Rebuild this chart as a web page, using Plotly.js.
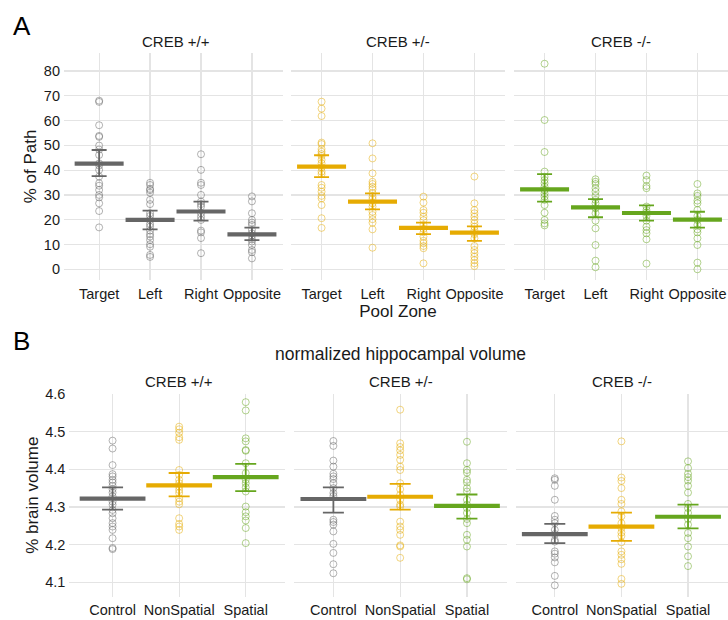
<!DOCTYPE html>
<html>
<head>
<meta charset="utf-8">
<script src="https://cdn.plot.ly/plotly-3.0.1.min.js"></script>
<style>
html,body{margin:0;padding:0;background:#fff;}
#chart{width:728px;height:620px;}
</style>
</head>
<body>
<div id="chart"></div>
<script>
// ---------- DATA ----------
const genotypes = ["CREB +/+", "CREB +/-", "CREB -/-"];
const zones = ["Target", "Left", "Right", "Opposite"];
const tasks = ["Control", "NonSpatial", "Spatial"];

// Panel A: % of path, one list per zone (Target, Left, Right, Opposite)
const pathWT = [
  [68.0,67.5,58.1,53.8,53.4,49.9,48.3,46.1,42.7,41.8,40.1,37.4,34.7,33.7,32.0,30.0,29.0,26.6,23.5,16.9],
  [34.9,34.0,32.4,31.9,30.9,28.0,26.3,22.6,21.5,19.9,18.3,17.2,15.6,14.2,13.2,11.8,10.1,9.1,5.8,5.0],
  [46.4,40.1,34.9,34.0,30.0,27.3,26.3,25.3,22.6,21.2,19.9,15.6,14.9,12.6,6.5],
  [29.4,27.4,22.6,19.9,18.8,17.9,15.9,14.5,13.6,12.1,11.2,9.8,7.8,6.9,4.4]
];
const pathHet = [
  [67.6,64.8,61.8,51.1,50.5,48.5,47.4,46.5,45.7,44.1,42.7,41.1,39.4,38.4,34.0,32.9,31.3,29.6,28.6,25.9,20.6,16.7],
  [50.8,44.7,38.7,35.3,34.4,33.3,32.3,30.7,29.3,28.4,26.6,25.3,23.2,21.9,20.2,18.8,16.1,8.7],
  [29.3,26.9,23.9,22.8,21.2,19.8,17.9,16.3,14.9,13.2,11.5,10.5,9.4,8.5,2.4],
  [37.4,26.6,23.9,22.6,21.2,19.8,18.5,17.2,15.8,14.2,12.5,9.4,7.8,6.5,5.1,3.7,2.4,1.3]
];
const pathKO = [
  [82.9,60.2,47.3,39.4,37.3,36.0,34.7,33.3,32.0,30.6,29.3,28.0,25.9,22.8,19.9,18.5,17.7],
  [36.3,35.3,34.4,32.7,31.3,29.6,28.0,26.6,24.6,22.6,19.6,16.5,9.8,3.5,0.8],
  [37.8,36.0,33.6,32.7,25.3,23.9,22.8,21.5,19.6,17.2,15.8,14.5,12.1,2.3],
  [34.4,30.6,29.6,27.7,26.6,23.9,21.5,19.9,17.9,16.1,14.9,12.5,9.8,2.7,0.0]
];
const pathMeanWT  = [42.6, 19.9, 23.3, 14.1];
const pathHiWT    = [48.1, 23.7, 27.3, 16.8];
const pathLoWT    = [37.6, 16.1, 19.6, 11.8];
const pathMeanHet = [41.4, 27.3, 16.7, 14.8];
const pathHiHet   = [46.0, 30.6, 18.8, 17.3];
const pathLoHet   = [37.2, 24.2, 14.2, 11.5];
const pathMeanKO  = [32.2, 25.0, 22.7, 20.0];
const pathHiKO    = [38.4, 28.3, 25.8, 23.2];
const pathLoKO    = [27.3, 21.0, 19.6, 16.8];

// Panel B: % brain volume, one list per task (Control, NonSpatial, Spatial)
const volWT = [
  [4.476,4.455,4.411,4.387,4.381,4.372,4.365,4.356,4.347,4.338,4.328,4.314,4.306,4.292,4.283,4.270,4.257,4.248,4.239,4.217,4.191,4.188],
  [4.513,4.506,4.497,4.485,4.478,4.398,4.385,4.372,4.363,4.354,4.345,4.337,4.323,4.314,4.307,4.270,4.255,4.248,4.239],
  [4.578,4.556,4.482,4.474,4.451,4.449,4.416,4.390,4.372,4.363,4.352,4.341,4.301,4.286,4.275,4.264,4.244,4.204]
];
const volHet = [
  [4.475,4.462,4.423,4.407,4.388,4.381,4.374,4.363,4.350,4.337,4.329,4.266,4.260,4.253,4.235,4.202,4.178,4.148,4.124],
  [4.558,4.469,4.459,4.450,4.438,4.425,4.407,4.398,4.363,4.347,4.332,4.319,4.306,4.301,4.261,4.248,4.239,4.226,4.198,4.195,4.165],
  [4.473,4.416,4.398,4.391,4.372,4.365,4.350,4.341,4.319,4.306,4.297,4.284,4.268,4.257,4.226,4.213,4.195,4.111,4.108]
];
const volKO = [
  [4.376,4.372,4.356,4.319,4.276,4.266,4.257,4.239,4.228,4.212,4.208,4.182,4.176,4.166,4.153,4.117,4.092],
  [4.474,4.378,4.369,4.350,4.319,4.308,4.288,4.275,4.257,4.244,4.232,4.223,4.206,4.182,4.173,4.161,4.149,4.109,4.096],
  [4.421,4.403,4.388,4.379,4.370,4.356,4.338,4.308,4.297,4.284,4.268,4.253,4.231,4.217,4.195,4.169,4.143]
];
const volMeanWT  = [4.322, 4.357, 4.379];
const volHiWT    = [4.352, 4.390, 4.414];
const volLoWT    = [4.293, 4.328, 4.342];
const volMeanHet = [4.321, 4.327, 4.303];
const volHiHet   = [4.352, 4.361, 4.333];
const volLoHet   = [4.285, 4.293, 4.269];
const volMeanKO  = [4.228, 4.248, 4.274];
const volHiKO    = [4.255, 4.285, 4.306];
const volLoKO    = [4.204, 4.210, 4.243];

const yTicksA = [0,10,20,30,40,50,60,70,80];
const yTicksB = [4.1,4.2,4.3,4.4,4.5,4.6];

// ---------- STYLE ----------
const COLS = ["#666666", "#E6AB02", "#66A61E"];
const COLS_A = ["rgba(102,102,102,0.5)", "rgba(230,171,2,0.5)", "rgba(102,166,30,0.5)"];
const FONT = "Liberation Sans, Arial, Helvetica, sans-serif";
const TXT = "#1a1a1a";
const GRID = "#e4e4e4";
const W = 728, H = 620;
const fx = v => v / W;
const fy = v => 1 - v / H;

const traces = [];

function addPanel(axisIdx, cats, groups, means, his, los, colorFor, barSize, capW) {
  const xa = "x" + (axisIdx === 1 ? "" : axisIdx);
  const ya = "y" + (axisIdx === 1 ? "" : axisIdx);
  groups.forEach((vals, i) => {
    traces.push({
      type: "scatter", mode: "markers", xaxis: xa, yaxis: ya,
      x: vals.map(() => cats[i]), y: vals,
      marker: { symbol: "circle-open", size: 7, color: COLS_A[colorFor(i)], line: { width: 1, color: COLS_A[colorFor(i)] } },
      hoverinfo: "skip", showlegend: false
    });
  });
  cats.forEach((c, i) => {
    traces.push({
      type: "scatter", mode: "markers", xaxis: xa, yaxis: ya,
      x: [c], y: [means[i]],
      marker: { size: 1, opacity: 0 },
      error_y: { type: "data", symmetric: false, array: [his[i] - means[i]], arrayminus: [means[i] - los[i]],
                 color: COLS[colorFor(i)], thickness: 1.8, width: capW },
      hoverinfo: "skip", showlegend: false
    });
  });
  traces.push({
    type: "scatter", mode: "markers", xaxis: xa, yaxis: ya,
    x: cats, y: means,
    marker: { symbol: "line-ew", size: barSize, line: { width: 4.2, color: cats.map((c, i) => COLS[colorFor(i)]) } },
    hoverinfo: "skip", showlegend: false
  });
}

addPanel(1, zones, pathWT,  pathMeanWT,  pathHiWT,  pathLoWT,  () => 0, 35, 7.5);
addPanel(2, zones, pathHet, pathMeanHet, pathHiHet, pathLoHet, () => 1, 35, 7.5);
addPanel(3, zones, pathKO,  pathMeanKO,  pathHiKO,  pathLoKO,  () => 2, 35, 7.5);
addPanel(4, tasks, volWT,  volMeanWT,  volHiWT,  volLoWT,  i => i, 47, 10.5);
addPanel(5, tasks, volHet, volMeanHet, volHiHet, volLoHet, i => i, 47, 10.5);
addPanel(6, tasks, volKO,  volMeanKO,  volHiKO,  volLoKO,  i => i, 47, 10.5);

function xAxis(domPx, range, cats, standoff, extra) {
  return Object.assign({
    domain: [fx(domPx[0]), fx(domPx[1])], range: range,
    type: "category", categoryorder: "array", categoryarray: cats,
    showgrid: true, gridcolor: GRID, gridwidth: 1.2, zeroline: false, showline: false,
    ticks: "", ticklabelstandoff: standoff,
    tickfont: { family: FONT, size: 14.5, color: TXT }, fixedrange: true
  }, extra || {});
}
function yAxis(domPx, range, tickvals, anchor, showLabels, extra) {
  return Object.assign({
    domain: [fy(domPx[1]), fy(domPx[0])], range: range, anchor: anchor,
    tickvals: tickvals, ticktext: tickvals.map(v => String(v)),
    showgrid: true, gridcolor: GRID, gridwidth: 1.2, zeroline: false, showline: false,
    ticks: "", ticklabelstandoff: 3, showticklabels: showLabels,
    tickfont: { family: FONT, size: 14.5, color: TXT }, fixedrange: true
  }, extra || {});
}

const yDomA = [53.3, 279.6], yRangeA = [-4.15, 87.1];
const yDomB = [393.5, 597], yRangeB = [4.061, 4.601];

const layout = {
  width: W, height: H,
  margin: { l: 0, r: 0, t: 0, b: 0 },
  paper_bgcolor: "#ffffff", plot_bgcolor: "rgba(0,0,0,0)",
  showlegend: false,
  font: { family: FONT, color: TXT },
  xaxis:  xAxis([64, 283], [-0.69, 3.61], zones, 4, { anchor: "y" }),
  xaxis2: xAxis([291, 505], [-0.6, 3.6], zones, 4, { anchor: "y2",
            title: { text: "Pool Zone", font: { family: FONT, size: 17, color: TXT }, standoff: 3 } }),
  xaxis3: xAxis([514, 728], [-0.6, 3.6], zones, 4, { anchor: "y3" }),
  xaxis4: xAxis([69.3, 285], [-0.65, 2.59], tasks, 2, { anchor: "y4" }),
  xaxis5: xAxis([294, 507], [-0.59, 2.6], tasks, 2, { anchor: "y5" }),
  xaxis6: xAxis([515.5, 728], [-0.59, 2.6], tasks, 2, { anchor: "y6" }),
  yaxis:  yAxis(yDomA, yRangeA, yTicksA, "x", true,
            { title: { text: "% of Path", font: { family: FONT, size: 17, color: TXT }, standoff: 2 } }),
  yaxis2: yAxis(yDomA, yRangeA, yTicksA, "x2", false),
  yaxis3: yAxis(yDomA, yRangeA, yTicksA, "x3", false),
  yaxis4: yAxis(yDomB, yRangeB, yTicksB, "x4", true,
            { title: { text: "% brain volume", font: { family: FONT, size: 17, color: TXT }, standoff: 2 } }),
  yaxis5: yAxis(yDomB, yRangeB, yTicksB, "x5", false),
  yaxis6: yAxis(yDomB, yRangeB, yTicksB, "x6", false),
  annotations: [
    { text: "A", x: fx(11), y: fy(26), xref: "paper", yref: "paper", xanchor: "left", yanchor: "middle",
      showarrow: false, font: { family: FONT, size: 26, color: "#000" } },
    { text: "B", x: fx(11), y: fy(341), xref: "paper", yref: "paper", xanchor: "left", yanchor: "middle",
      showarrow: false, font: { family: FONT, size: 26, color: "#000" } },
    { text: "normalized hippocampal volume", x: fx(400), y: fy(354), xref: "paper", yref: "paper",
      xanchor: "center", yanchor: "middle", showarrow: false, font: { family: FONT, size: 17.5, color: TXT } },
    ...[176, 398, 621].map((cx, i) => ({ text: genotypes[i], x: fx(cx), y: fy(41), xref: "paper", yref: "paper",
      xanchor: "center", yanchor: "middle", showarrow: false, font: { family: FONT, size: 15, color: TXT } })),
    ...[179, 400.5, 622].map((cx, i) => ({ text: genotypes[i], x: fx(cx), y: fy(381), xref: "paper", yref: "paper",
      xanchor: "center", yanchor: "middle", showarrow: false, font: { family: FONT, size: 15, color: TXT } }))
  ]
};

Plotly.newPlot("chart", traces, layout, { staticPlot: true, displayModeBar: false });
</script>
</body>
</html>
